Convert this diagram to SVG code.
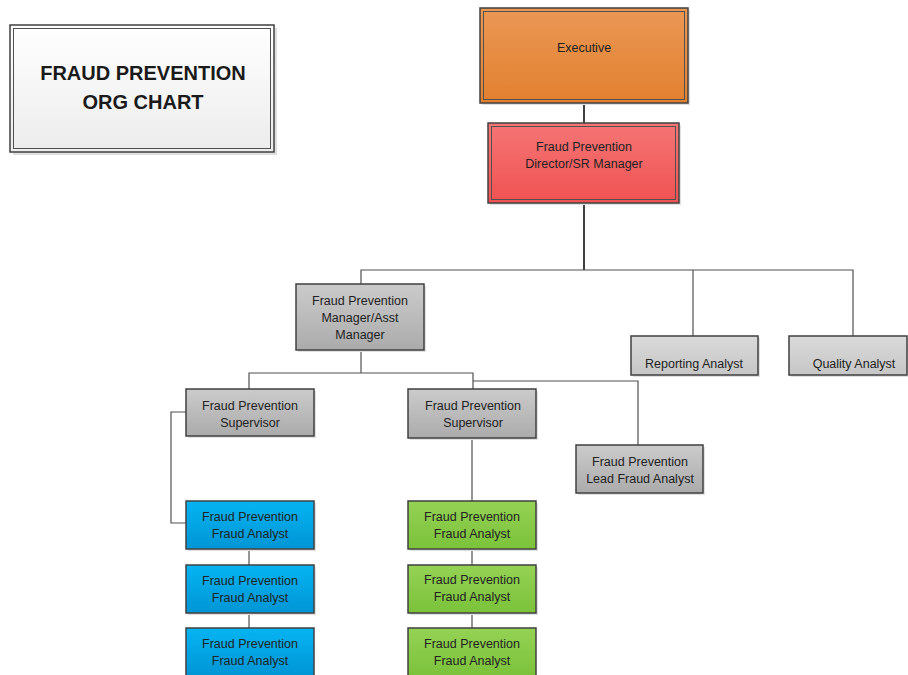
<svg xmlns="http://www.w3.org/2000/svg" width="908" height="675" viewBox="0 0 908 675">
<style>
text{font-family:"Liberation Sans",Arial,sans-serif;fill:#222222;text-anchor:middle;font-size:12.5px}
.title{font-size:20px;font-weight:bold;fill:#1a1a1a}
.box{stroke:#404040;stroke-width:1.5}
.inner{fill:none;stroke:#505050;stroke-width:1}
.shadow{fill:#e0e0e0}
.conn{fill:none;stroke:#505050;stroke-width:1.2}
.thick{fill:none;stroke:#404040;stroke-width:2}
</style>
<defs>
<linearGradient id="gTitle" x1="0" y1="0" x2="0" y2="1"><stop offset="0" stop-color="#ffffff"/><stop offset="1" stop-color="#ececec"/></linearGradient>
<linearGradient id="gExec" x1="0" y1="0" x2="0" y2="1"><stop offset="0" stop-color="#ea9856"/><stop offset="1" stop-color="#e2802f"/></linearGradient>
<linearGradient id="gDir" x1="0" y1="0" x2="0" y2="1"><stop offset="0" stop-color="#f57575"/><stop offset="1" stop-color="#f05252"/></linearGradient>
<linearGradient id="gGrey" x1="0" y1="0" x2="0" y2="1"><stop offset="0" stop-color="#cbcbcb"/><stop offset="1" stop-color="#ababab"/></linearGradient>
<linearGradient id="gLight" x1="0" y1="0" x2="0" y2="1"><stop offset="0" stop-color="#dadada"/><stop offset="1" stop-color="#c6c6c6"/></linearGradient>
<linearGradient id="gBlue" x1="0" y1="0" x2="0" y2="1"><stop offset="0" stop-color="#06b4f2"/><stop offset="1" stop-color="#0095d5"/></linearGradient>
<linearGradient id="gGreen" x1="0" y1="0" x2="0" y2="1"><stop offset="0" stop-color="#95d255"/><stop offset="1" stop-color="#7bc23a"/></linearGradient>
</defs>
<rect width="908" height="675" fill="#ffffff"/>

<g id="connectors">
<line class="thick" x1="584" y1="103" x2="584" y2="123"/>
<line class="thick" x1="584" y1="203" x2="584" y2="270"/>
<polyline class="conn" points="361,284 361,270 853,270 853,336"/>
<line class="conn" x1="693" y1="270" x2="693" y2="336"/>
<line class="conn" x1="361" y1="350" x2="361" y2="373"/>
<polyline class="conn" points="249,389 249,373 473,373 473,389"/>
<polyline class="conn" points="473,381 638,381 638,445"/>
<polyline class="conn" points="186,412 171,412 171,523 186,523"/>
<line class="conn" x1="249" y1="549" x2="249" y2="565"/>
<line class="conn" x1="249" y1="613" x2="249" y2="628"/>
<line class="conn" x1="472" y1="438" x2="472" y2="501"/>
<line class="conn" x1="472" y1="549" x2="472" y2="565"/>
<line class="conn" x1="472" y1="613" x2="472" y2="628"/>
</g>

<g id="title">
<rect class="shadow" x="13" y="28" width="264" height="127"/>
<rect x="10" y="25" width="264" height="127" fill="url(#gTitle)" stroke="#404040" stroke-width="1.5"/>
<rect class="inner" x="13.5" y="28.5" width="257" height="120"/>
<text class="title" x="143" y="80">FRAUD PREVENTION</text>
<text class="title" x="143" y="109">ORG CHART</text>
</g>

<g id="executive">
<rect class="shadow" x="482" y="10" width="208" height="95"/>
<rect class="box" x="480" y="8" width="208" height="95" fill="url(#gExec)" stroke-width="2"/>
<rect class="inner" x="483.5" y="11.5" width="201" height="88"/>
<text x="584" y="52">Executive</text>
</g>

<g id="director">
<rect class="shadow" x="490" y="125" width="191" height="80"/>
<rect class="box" x="488" y="123" width="191" height="80" fill="url(#gDir)"/>
<rect class="inner" x="491.5" y="126.5" width="184" height="73"/>
<text x="584" y="151">Fraud Prevention</text>
<text x="584" y="168">Director/SR Manager</text>
</g>

<g id="manager">
<rect class="shadow" x="298" y="286" width="128" height="66"/>
<rect class="box" x="296" y="284" width="128" height="66" fill="url(#gGrey)"/>
<text x="360" y="305">Fraud Prevention</text>
<text x="360" y="322">Manager/Asst</text>
<text x="360" y="339">Manager</text>
</g>

<g id="reporting">
<rect class="shadow" x="633" y="338" width="127" height="39"/>
<rect class="box" x="631" y="336" width="127" height="39" fill="url(#gLight)"/>
<text x="694" y="368">Reporting Analyst</text>
</g>

<g id="quality">
<rect class="shadow" x="791" y="338" width="118" height="39"/>
<rect class="box" x="789" y="336" width="118" height="39" fill="url(#gLight)"/>
<text x="854" y="368">Quality Analyst</text>
</g>

<g id="supervisor1">
<rect class="shadow" x="188" y="391" width="128" height="47"/>
<rect class="box" x="186" y="389" width="128" height="47" fill="url(#gGrey)"/>
<text x="250" y="410">Fraud Prevention</text>
<text x="250" y="427">Supervisor</text>
</g>

<g id="supervisor2">
<rect class="shadow" x="410" y="391" width="128" height="49"/>
<rect class="box" x="408" y="389" width="128" height="49" fill="url(#gGrey)"/>
<text x="473" y="410">Fraud Prevention</text>
<text x="473" y="427">Supervisor</text>
</g>

<g id="lead">
<rect class="shadow" x="578" y="447" width="127" height="48"/>
<rect class="box" x="576" y="445" width="127" height="48" fill="url(#gGrey)"/>
<text x="640" y="466">Fraud Prevention</text>
<text x="640" y="483">Lead Fraud Analyst</text>
</g>

<g id="blue1">
<rect class="shadow" x="188" y="503" width="128" height="48"/>
<rect class="box" x="186" y="501" width="128" height="48" fill="url(#gBlue)"/>
<text x="250" y="521">Fraud Prevention</text>
<text x="250" y="538">Fraud Analyst</text>
</g>
<g id="blue2">
<rect class="shadow" x="188" y="567" width="128" height="48"/>
<rect class="box" x="186" y="565" width="128" height="48" fill="url(#gBlue)"/>
<text x="250" y="585">Fraud Prevention</text>
<text x="250" y="602">Fraud Analyst</text>
</g>
<g id="blue3">
<rect class="box" x="186" y="628" width="128" height="48" fill="url(#gBlue)"/>
<text x="250" y="648">Fraud Prevention</text>
<text x="250" y="665">Fraud Analyst</text>
</g>

<g id="green1">
<rect class="shadow" x="410" y="503" width="128" height="48"/>
<rect class="box" x="408" y="501" width="128" height="48" fill="url(#gGreen)"/>
<text x="472" y="521">Fraud Prevention</text>
<text x="472" y="538">Fraud Analyst</text>
</g>
<g id="green2">
<rect class="shadow" x="410" y="567" width="128" height="48"/>
<rect class="box" x="408" y="565" width="128" height="48" fill="url(#gGreen)"/>
<text x="472" y="584">Fraud Prevention</text>
<text x="472" y="601">Fraud Analyst</text>
</g>
<g id="green3">
<rect class="box" x="408" y="628" width="128" height="48" fill="url(#gGreen)"/>
<text x="472" y="648">Fraud Prevention</text>
<text x="472" y="665">Fraud Analyst</text>
</g>
</svg>
